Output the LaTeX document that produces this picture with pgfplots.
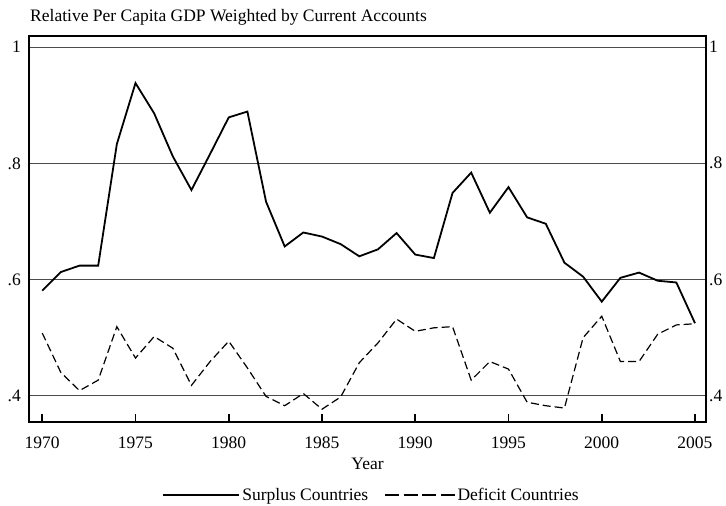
\documentclass[border=0pt]{standalone}
\usepackage{pgfplots}
\pgfplotsset{compat=1.18}
\usepackage{fontspec}
\setmainfont{Liberation Serif}
\begin{document}
\begin{tikzpicture}[x=1pt,y=1pt]
\useasboundingbox (0,0) rectangle (726,506);
\node[anchor=base west, inner sep=0pt, font=\fontsize{17.5}{17.5}\selectfont] at (30,484) {Relative Per Capita GDP Weighted by Current Accounts};
\begin{axis}[at={(29pt,84pt)}, anchor=south west, scale only axis,
  width=677pt, height=386pt,
  xmin=1969.29, xmax=2005.59, ymin=0.355, ymax=1.019,
  xtick={1970,1975,1980,1985,1990,1995,2000,2005},
  xticklabels={1970,1975,1980,1985,1990,1995,2000,2005},
  ytick={0.4,0.6,0.8,1},
  yticklabels={.4,.6,.8,1},
  xtick pos=bottom, ytick pos=left,
  tick align=inside,
  major tick length=8pt,
  x tick style={line width=1.6pt, black},
  y tick style={draw=none},
  axis line style={line width=1.6pt},
  ymajorgrids,
  major grid style={line width=0.9pt, black!70},
  /pgf/number format/assume math mode=true,
  xticklabel style={anchor=center, yshift=-21pt, font=\fontsize{17.5}{17.5}\selectfont},
  yticklabel style={anchor=east, inner sep=0pt, xshift=-8pt, font=\fontsize{17.5}{17.5}\selectfont},
  xlabel={Year},
  xlabel style={at={(axis description cs:0.5,-0.109)}, anchor=center, font=\fontsize{17.5}{17.5}\selectfont},
  legend style={at={(0.506,-0.189)}, anchor=center, draw=none, legend columns=2,
    font=\fontsize{17.5}{17.5}\selectfont, inner sep=0pt,
    /tikz/every even column/.append style={column sep=14pt}},
]
\addplot[black, line width=1.8pt, line join=miter,
  legend image code/.code={\draw[black, line width=1.8pt] (0pt,0pt) -- (76pt,0pt);}] coordinates {
(1970,0.581) (1971,0.613) (1972,0.624) (1973,0.624) (1974,0.833)
(1975,0.938) (1976,0.886) (1977,0.812) (1978,0.754) (1979,0.816)
(1980,0.879) (1981,0.889) (1982,0.734) (1983,0.657) (1984,0.681)
(1985,0.674) (1986,0.661) (1987,0.640) (1988,0.652) (1989,0.680)
(1990,0.643) (1991,0.637) (1992,0.749) (1993,0.784) (1994,0.715)
(1995,0.759) (1996,0.707) (1997,0.696) (1998,0.629) (1999,0.605)
(2000,0.562) (2001,0.603) (2002,0.612) (2003,0.598) (2004,0.595)
(2005,0.525)};
\addlegendentry{Surplus Countries}
\addplot[black, line width=1.2pt, dash pattern=on 8pt off 4pt, line join=miter,
  legend image code/.code={\draw[black, line width=1.3pt, dash pattern=on 14pt off 4.7pt] (0pt,0pt) -- (70pt,0pt);}] coordinates {
(1970,0.508) (1971,0.440) (1972,0.409) (1973,0.427) (1974,0.519)
(1975,0.465) (1976,0.502) (1977,0.482) (1978,0.418) (1979,0.459)
(1980,0.494) (1981,0.448) (1982,0.399) (1983,0.383) (1984,0.404)
(1985,0.377) (1986,0.398) (1987,0.457) (1988,0.491) (1989,0.532)
(1990,0.511) (1991,0.517) (1992,0.519) (1993,0.427) (1994,0.459)
(1995,0.446) (1996,0.389) (1997,0.383) (1998,0.379) (1999,0.500)
(2000,0.537) (2001,0.459) (2002,0.459) (2003,0.506) (2004,0.522)
(2005,0.524)};
\addlegendentry{Deficit Countries}
\end{axis}
\begin{axis}[at={(29pt,84pt)}, anchor=south west, scale only axis,
  width=677pt, height=386pt,
  xmin=1969.29, xmax=2005.59, ymin=0.355, ymax=1.019,
  axis x line=none, axis y line*=right,
  ytick={0.4,0.6,0.8,1},
  yticklabels={.4,.6,.8,1},
  y tick style={draw=none},
  axis line style={line width=1.6pt},
  yticklabel style={anchor=west, inner sep=0pt, xshift=3pt, font=\fontsize{17.5}{17.5}\selectfont},
]
\end{axis}
\end{tikzpicture}
\end{document}
